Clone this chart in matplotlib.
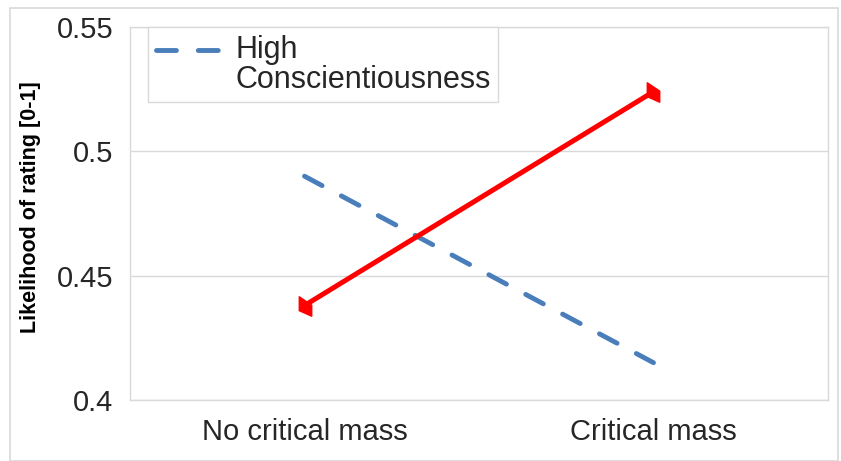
import matplotlib
matplotlib.use("Agg")
import matplotlib.pyplot as plt
from matplotlib.patches import Rectangle
from matplotlib.path import Path
from matplotlib.legend_handler import HandlerLine2D

categories = ["No critical mass", "Critical mass"]
high_consc = [0.49, 0.415]
low_consc = [0.438, 0.524]
yticks = [0.4, 0.45, 0.5, 0.55]
ytick_labels = ["0.4", "0.45", "0.5", "0.55"]

plt.rcParams['font.family'] = ['Liberation Sans', 'DejaVu Sans']


class RaisedHandler(HandlerLine2D):
    def __init__(self, shift, **kw):
        super().__init__(**kw)
        self.shift = shift

    def create_artists(self, legend, orig_handle, xdescent, ydescent, width, height, fontsize, trans):
        return super().create_artists(legend, orig_handle, xdescent, ydescent - 2 * self.shift,
                                      width, height, fontsize, trans)


fig = plt.figure(figsize=(8.41, 4.61), dpi=100)
ax = fig.add_axes([130/841, 1-400/461, 698/841, 373/461])

# outer chart border
fig.patches.append(Rectangle((10/841, 0), 828/841, 453/461, transform=fig.transFigure,
                             fill=False, edgecolor='#d9d9d9', linewidth=1.2))

x = [0.5, 1.5]
line_hi, = ax.plot(x, high_consc, color='#4a7ebb', lw=3.5, dashes=(4.1, 4.5), dash_capstyle='round',
                   label='High\nConscientiousness', zorder=3)

marker_verts = [(-1, 1.56), (1, 0.22), (1, -1.56), (-1, -0.67), (-1, 1.56)]
marker_path = Path(marker_verts, [Path.MOVETO, Path.LINETO, Path.LINETO, Path.LINETO, Path.CLOSEPOLY])
ax.plot(x, low_consc, color='#ff0000', lw=3.6, marker=marker_path, markersize=14,
        zorder=4, label='_nolegend_')

ax.set_xlim(0, 2)
ax.set_ylim(0.4, 0.55)
ax.set_xticks(x)
ax.set_xticklabels(categories, fontsize=21, color='#262626')
ax.set_yticks(yticks)
ax.set_yticklabels(ytick_labels, fontsize=21, color='#262626')
ax.tick_params(length=0, pad=12)
ax.tick_params(axis='x', pad=13)
ax.grid(axis='y', color='#d9d9d9', lw=1)
ax.set_axisbelow(True)
for s in ax.spines.values():
    s.set_color('#d9d9d9')
    s.set_linewidth(1)

ax.set_ylabel('Likelihood of rating [0-1]', fontsize=15.5, fontweight='bold')
ax.yaxis.set_label_coords(-0.128, 0.517)

leg = ax.legend(handles=[line_hi], loc='upper left', bbox_to_anchor=(18/698, 1.0), fontsize=22,
                frameon=True, fancybox=False, edgecolor='#d9d9d9', framealpha=1,
                handlelength=2.2, handletextpad=0.4, borderpad=0.25, borderaxespad=0,
                handler_map={line_hi: RaisedHandler(11)})
leg.get_frame().set_linewidth(1)
for t in leg.get_texts():
    t.set_color('#262626')
    t.set_linespacing(1.0)

fig.savefig('out.png', dpi=100)
